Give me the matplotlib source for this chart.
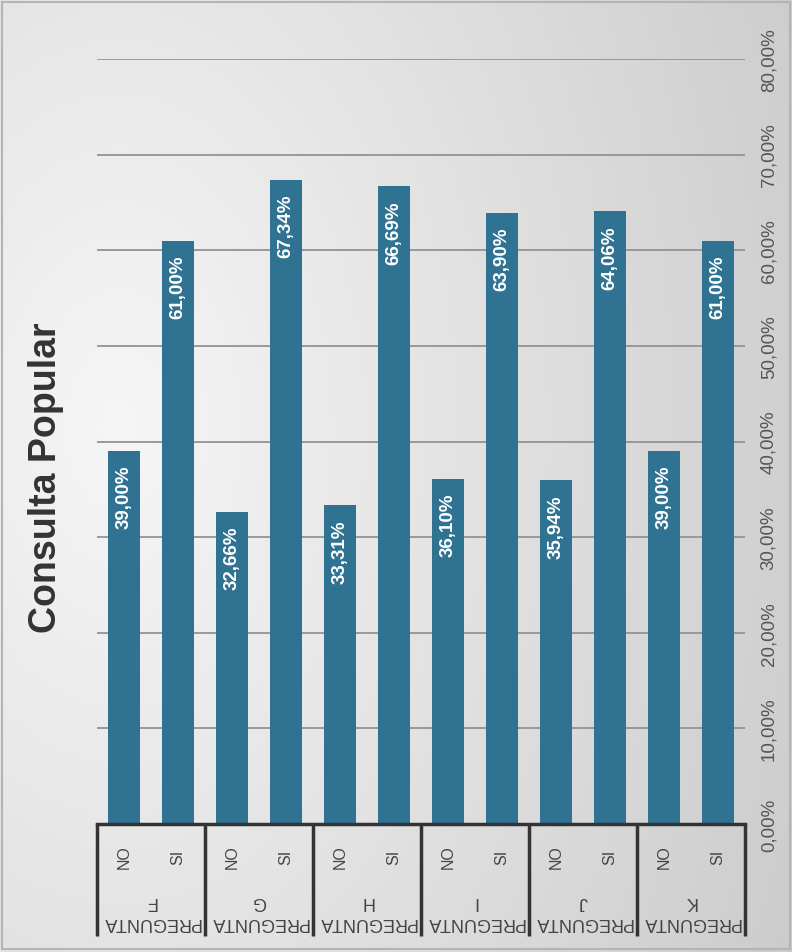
import numpy as np
import matplotlib
matplotlib.use("Agg")
import matplotlib.pyplot as plt
from matplotlib.patches import Rectangle
from matplotlib.ticker import FuncFormatter

plt.rcParams['font.family'] = ['Liberation Sans', 'DejaVu Sans']

# Data
preguntas = ["F", "G", "H", "I", "J", "K"]
respuestas = ["NO", "SI"]
pct_no = [39.00, 32.66, 33.31, 36.10, 35.94, 39.00]
pct_si = [61.00, 67.34, 66.69, 63.90, 64.06, 61.00]
y_ticks = [0, 10, 20, 30, 40, 50, 60, 70, 80]

W, H = 792, 953
fig = plt.figure(figsize=(W / 100, H / 100), dpi=100)

# Background gradient
bg = fig.add_axes([0, 0, 1, 1], zorder=0)
xx, yy = np.meshgrid(np.linspace(0, 1, 400), np.linspace(0, 1, 480))
d = np.sqrt(((xx - 0.15) / 1.0) ** 2 + ((yy - 0.55) / 1.3) ** 2)
shade = 246 - 42 * (d / d.max())
img = np.dstack([shade, shade, shade]) / 255.0
bg.imshow(img, aspect="auto", extent=[0, 1, 0, 1], origin="lower")
bg.set_axis_off()
fig.patches.append(Rectangle((0.003, 0.003), 0.994, 0.994, transform=fig.transFigure,
                             fill=False, edgecolor="#b4b4b4", linewidth=1.5))

# Main axes
left, right = 97 / W, 745 / W
bottom, top = (H - 825) / H, (H - 60) / H
ax = fig.add_axes([left, bottom, right - left, top - bottom], zorder=1)
ax.patch.set_alpha(0)

values = []
for n, s in zip(pct_no, pct_si):
    values += [n / 100, s / 100]
pos = np.arange(len(values))

ax.bar(pos, values, width=0.58, color="#2f7292", zorder=2)
for p, v in zip(pos, values):
    lbl = f"{v * 100:.2f}%".replace(".", ",")
    ax.annotate(lbl, (p, v), xytext=(0, -10), textcoords="offset points",
                rotation=90, ha="center", va="top", color="white",
                fontsize=13.5, fontweight="bold", zorder=3)

ax.set_xlim(-0.5, len(values) - 0.5)
ax.set_ylim(0, 0.8)
ax.set_yticks([t / 100 for t in y_ticks])
ax.yaxis.set_major_formatter(FuncFormatter(lambda v, _: f"{v * 100:.2f}%".replace(".", ",")))
ax.yaxis.tick_right()
ax.tick_params(axis="y", length=0, pad=11, labelsize=13.5, labelcolor="#555555")
for lab in ax.get_yticklabels():
    lab.set_rotation(90)
    lab.set_va("center")
ax.set_xticks([])
ax.grid(axis="y", color="#939393", linewidth=1.3, zorder=1)
ax.set_axisbelow(True)
for side in ["top", "right", "left"]:
    ax.spines[side].set_visible(False)
ax.spines["bottom"].set_color("#333333")
ax.spines["bottom"].set_linewidth(2.5)
ax.spines["bottom"].set_zorder(4)

# Category boxes
trans = ax.get_xaxis_transform()
box_depth = 112 / (825 - 60)
for g in range(len(preguntas) + 1):
    x = 2 * g - 0.5
    ax.plot([x, x], [0, -box_depth], transform=trans, color="#333333",
            linewidth=2.5, clip_on=False, solid_capstyle="butt")
for p in pos:
    ax.text(p, -32 / 765, respuestas[p % 2], transform=trans, rotation=90,
            ha="center", va="center", fontsize=11.5, color="#444444")
for g, q in enumerate(preguntas):
    ax.text(2 * g + 0.5, -87 / 765, "PREGUNTA\n" + q, transform=trans, rotation=180,
            ha="center", va="center", fontsize=13, color="#444444",
            multialignment="center", linespacing=1.3)

# Title
fig.text(46 / W, 1 - 478 / H, "Consulta Popular", rotation=90, ha="center", va="center",
         fontsize=27, fontweight="bold", color="#333333")

fig.savefig("out.png", dpi=100)
